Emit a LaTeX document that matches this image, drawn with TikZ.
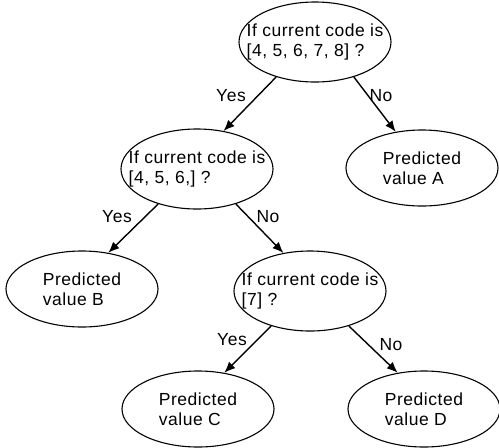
\documentclass[tikz,border=0pt]{standalone}
\usepackage{fontspec}
\setmainfont[LetterSpace=3]{Liberation Sans}
\usetikzlibrary{arrows.meta,shapes.geometric}
\begin{document}
\begin{tikzpicture}[x=1pt,y=-1pt,
  qoval/.style={draw, ellipse, line width=1.1pt, minimum width=152pt, minimum height=80pt, inner sep=0pt},
  poval/.style={draw, ellipse, line width=1.1pt, minimum width=152pt, minimum height=76pt, inner sep=0pt},
  intext/.style={align=left, font=\fontsize{17.5}{20}\selectfont, inner sep=0pt},
  lbl/.style={font=\fontsize{17.5}{20}\selectfont, inner sep=0pt},
  arr/.style={line width=1.4pt, -{Latex[length=11pt,width=9pt]}}]
\useasboundingbox (0,0) rectangle (499,448);
% ellipses
\node[qoval] (r)  at (315,42)  {};
\node[qoval] (q2) at (197,169) {};
\node[poval] (a)  at (422,168) {};
\node[poval] (b)  at (82,289)  {};
\node[qoval] (q3) at (310,291) {};
\node[poval] (c)  at (198,409) {};
\node[poval] (d)  at (424,409) {};
% texts
\node[intext] (rt)  at (r)  {If current code is\\{[}4, 5, 6, 7, 8{]} ?};
\node[intext] (q2t) at (q2) {If current code is\\{[}4, 5, 6,{]} ?};
\node[intext] (q3t) at (q3) {If current code is\\{[}7{]} ?};
\node[intext] (at)  at (a)  {Predicted\\value A};
\node[intext] (bt)  at (b)  {Predicted\\value B};
\node[intext] (ct)  at (c)  {Predicted\\value C};
\node[intext] (dt)  at (d)  {Predicted\\value D};
% arrows
\draw[arr] (r.222)  -- (q2.55);
\draw[arr] (r.318)  -- (a.126);
\draw[arr] (q2.222) -- (b.54);
\draw[arr] (q2.318) -- (q3.125);
\draw[arr] (q3.222) -- (c.54);
\draw[arr] (q3.318) -- (d.126);
% labels
\node[lbl] (y1) at (231,96)  {Yes};
\node[lbl] (n1) at (381,96)  {No};
\node[lbl] (y2) at (117,217) {Yes};
\node[lbl] (n2) at (268,217) {No};
\node[lbl] (y3) at (232,340) {Yes};
\node[lbl] (n3) at (391,345) {No};
\end{tikzpicture}
\end{document}
